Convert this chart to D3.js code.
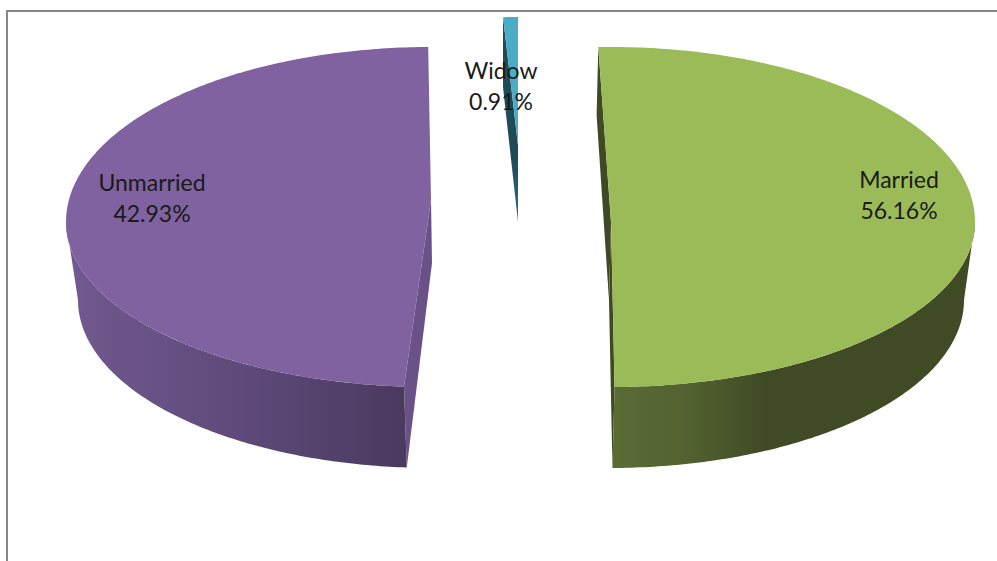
<!DOCTYPE html>
<html>
<head>
<meta charset="utf-8">
<style>
html,body{margin:0;padding:0;background:#fff;overflow:hidden}
svg{display:block}
text{font-family:Lato,"Open Sans",sans-serif;font-size:23px;fill:#1a1a1a;text-anchor:middle}
</style>
<script src="https://cdn.jsdelivr.net/npm/d3@7/dist/d3.min.js"></script>
</head>
<body>
<svg id="c" width="997" height="561"></svg>
<script>
// Data
const categories = ["Married", "Unmarried", "Widow"];
const printedPercents = [56.16, 42.93, 0.91];
// Share of the ellipse each wedge actually occupies in the picture
const drawnShares = [50.4, 48.7, 0.9];
const topColors = ["#9BBB59", "#7F629F", "#4BACC6"];

// Layout (one entry per wedge): top ellipse, bottom ellipse, apexes
const layouts = [
  {nudge:0,   cx:611, cy:222, rx:364, ryB:175, ryF:165, bx:609, by:300, brx:355, bryB:185, bryF:168,
   apex:[611,222], bApex:[609,300], wall:"#3F4A24", front:"gMarried",
   label:[899,188]},
  {nudge:4.8, cx:431, cy:222, rx:365, ryB:175, ryF:165, bx:433, by:300, brx:355, bryB:185, bryF:168,
   apex:[431,200], bApex:[432,263], wall:"#6A5289", front:"gUnmarried",
   label:[152,191]},
  {nudge:2,   cx:518, cy:145, rx:265, ryB:128, ryF:128, bx:518, by:222, brx:265, bryB:135, bryF:135,
   apex:[518,145], bApex:[518,222], wall:"url(#gWidow)", front:null,
   label:[501,79]}
];
const lineGap = 31;

const svg = d3.select("#c");
const W = 997, H = 561;
const deg = Math.PI/180;

// gradients
const defs = svg.append("defs");
function grad(id, a, b, stops, vertical){
  const g = defs.append("linearGradient").attr("id", id).attr("gradientUnits","userSpaceOnUse")
    .attr("x1", vertical?0:a).attr("x2", vertical?0:b)
    .attr("y1", vertical?a:0).attr("y2", vertical?b:0);
  stops.forEach(s => g.append("stop").attr("offset", s[0]).attr("stop-color", s[1]));
}
grad("gMarried", 612, 975, [[0,"#5A6B33"],[0.2,"#536230"],[0.42,"#404B25"],[1,"#404B25"]]);
grad("gUnmarried", 66, 407, [[0,"#72598F"],[0.5,"#5F4A7B"],[1,"#493A5E"]]);
grad("gWidow", 90, 222, [[0,"#1F4A58"],[0.5,"#1F4A58"],[1,"#2A6E84"]], true);

// frame: only the left and top sides are in view
const frame = d3.path();
frame.moveTo(7, H+2); frame.lineTo(7, 11); frame.lineTo(W+2, 11);
svg.append("path").attr("d", frame.toString())
  .attr("fill","none").attr("stroke","#868686").attr("stroke-width",2);

const pie = d3.pie().sort(null).startAngle(-2*deg).endAngle(358*deg).value(d=>d);
const arcs = pie(drawnShares);
const line = d3.line();

function topPt(l,a){const c=Math.cos(a);return [l.cx+l.rx*Math.sin(a), l.cy-(c>0?l.ryB:l.ryF)*c];}
function botPt(l,a){const c=Math.cos(a);return [l.bx+l.brx*Math.sin(a), l.by-(c>0?l.bryB:l.bryF)*c];}
function samples(a0,a1,n){return d3.range(n+1).map(i=>a0+(a1-a0)*i/n);}

arcs.forEach((d,i)=>{
  const l = layouts[i];
  const a0 = d.startAngle + l.nudge*deg, a1 = d.endAngle + l.nudge*deg;
  const g = svg.append("g").attr("class","slice");

  // cut walls seen through the gap
  g.append("path").attr("fill", l.wall).attr("d", line([
    topPt(l,a0), l.apex, l.bApex, botPt(l,a0)])+"Z");
  if(i===0){
    g.append("path").attr("fill", l.wall).attr("d", line([
      l.apex, topPt(l,a1), botPt(l,a1), l.bApex])+"Z");
  }

  // outer rim wall (front half only)
  if(l.front){
    const f0 = Math.max(a0, 90*deg), f1 = Math.min(a1, 270*deg);
    const as = samples(f0,f1,120);
    const poly = as.map(a=>topPt(l,a)).concat(as.slice().reverse().map(a=>botPt(l,a)));
    g.append("path").attr("fill","url(#"+l.front+")").attr("d", line(poly)+"Z");
  }

  // top face
  const as = samples(a0,a1,240);
  const face = [l.apex].concat(as.map(a=>topPt(l,a)));
  g.append("path").attr("fill", topColors[i]).attr("d", line(face)+"Z");
});

// labels
categories.forEach((c,i)=>{
  const [x,y] = layouts[i].label;
  const t = svg.append("text").attr("x",x).attr("y",y);
  t.append("tspan").attr("x",x).text(c);
  t.append("tspan").attr("x",x).attr("dy",lineGap).text(d3.format(".2f")(printedPercents[i])+"%");
});
</script>
</body>
</html>
